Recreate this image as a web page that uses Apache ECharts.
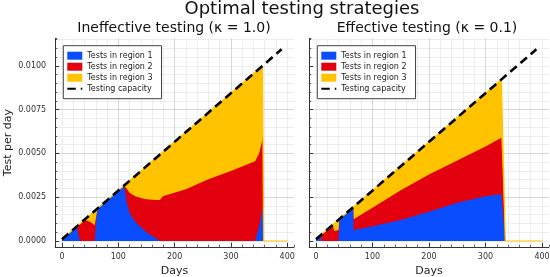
<!DOCTYPE html>
<html><head><meta charset="utf-8">
<script src="https://cdn.jsdelivr.net/npm/echarts@6/dist/echarts.min.js"></script>
<style>html,body{margin:0;padding:0;background:#fff}#c{width:550px;height:277px}</style>
</head><body><div id="c"></div>
<script>
const mainTitle = 'Optimal testing strategies';
const panelTitles = ['Ineffective testing (κ = 1.0)', 'Effective testing (κ = 0.1)'];
const seriesNames = ['Tests in region 1', 'Tests in region 2', 'Tests in region 3', 'Testing capacity'];
const xTicks = [0, 100, 200, 300, 400];
const yTicks = [0, 0.0025, 0.005, 0.0075, 0.01];

// Panel A: kappa = 1.0
const daysA = [0, 26, 32, 40, 46, 52, 58, 61, 62, 65, 80, 100, 110, 115, 120, 130, 140, 150, 160, 170, 174, 177, 179, 181, 220, 260, 300, 343, 350, 356, 357, 358, 400];
const regionA1 = [0.0001, 0.00082, 0, 0, 0, 0, 0, 0, 0.0016, 0.00191, 0.00232, 0.00288, 0.00316, 0.0022, 0.0016, 0.0011, 0.0008, 0.0005, 0.00028, 0.0001, 0, 0, 0, 0, 0, 0, 0, 0, 0.0008, 0.0018, 0.002, 0, '-'];
const regionA2 = [0, 0, 0.00099, 0.00118, 0.00116, 0.00105, 0.0009, 0.00086, 0, 0, 0, 0, 0, 0.0008, 0.00115, 0.00145, 0.00165, 0.00188, 0.00207, 0.00224, 0.00234, 0.00236, 0.00256, 0.00245, 0.00295, 0.00352, 0.004, 0.00455, 0.0042, 0.004, 0.004, 0, '-'];
const regionA3 = [0, 0, 0, 0.00003, 0.00022, 0.0005, 0.00081, 0.00094, 0.00022, 0, 0, 0, 0, 0.0003, 0.00069, 0.00116, 0.00154, 0.00189, 0.0022, 0.00249, 0.0026, 0.00266, 0.00252, 0.00268, 0.00327, 0.00381, 0.00444, 0.00509, 0.00483, 0.00419, 0.00402, 0, 0];

// Panel B: kappa = 0.1
const daysB = [0, 8, 10, 30, 32, 40, 41, 41.5, 66, 66.5, 70, 100, 150, 200, 250, 300, 328, 335, 400];
const regionB1 = [0.0001, 0.00032, 0, 0, 0, 0, 0, 0.00125, 0.00193, 0.00063, 0.00067, 0.00085, 0.0012, 0.00167, 0.00218, 0.00255, 0.00268, 0, '-'];
const regionB2 = [0, 0, 0.00038, 0.00093, 0.00057, 0.00063, 0.00064, 0, 0, 0.00061, 0.00063, 0.00105, 0.0017, 0.00213, 0.00242, 0.00285, 0.00322, 0, '-'];
const regionB3 = [0, 0, 0, 0, 0.00042, 0.00058, 0.0006, 0, 0, 0.00071, 0.00075, 0.00098, 0.00137, 0.00186, 0.00245, 0.00304, 0.00332, 0, 0];

const capacityDays = [0, 390];
const capacityValues = [0.0001, 0.01094];

const BLUE = '#0a4dff', RED = '#e3000f', YEL = '#ffc300';
const FONT = 'DejaVu Sans';

function num(v) { return (v === '-' || v == null) ? null : v; }
function makeCum(days, r1, r2, r3) {
  const blue = [], red = [], total = [];
  days.forEach((d, i) => {
    const a = num(r1[i]), b = num(r2[i]), c = num(r3[i]);
    blue.push([d, a == null ? '-' : a]);
    red.push([d, (a == null || b == null) ? '-' : a + b]);
    total.push([d, (a || 0) + (b || 0) + (c || 0)]);
  });
  return { blue, red, total };
}
const cumA = makeCum(daysA, regionA1, regionA2, regionA3);
const cumB = makeCum(daysB, regionB1, regionB2, regionB3);
const capData = capacityDays.map((d, i) => [d, capacityValues[i]]);

function panelSeries(gi, cum) {
  const ax = gi * 2;
  const base = { type: 'line', xAxisIndex: ax, yAxisIndex: ax, symbol: 'none', showSymbol: false, animation: false, silent: true };
  return [
    Object.assign({}, base, { name: seriesNames[2], data: cum.total, lineStyle: { width: 1.2, color: YEL }, areaStyle: { color: YEL, opacity: 1 }, itemStyle: { color: YEL } }),
    Object.assign({}, base, { name: seriesNames[1], data: cum.red, lineStyle: { width: 0, color: RED }, areaStyle: { color: RED, opacity: 1 }, itemStyle: { color: RED } }),
    Object.assign({}, base, { name: seriesNames[0], data: cum.blue, lineStyle: { width: 0, color: BLUE }, areaStyle: { color: BLUE, opacity: 1 }, itemStyle: { color: BLUE } }),
    Object.assign({}, base, { name: seriesNames[3], data: capData, lineStyle: { width: 2.6, color: '#000', type: [8.5, 5] }, itemStyle: { color: '#000' }, z: 5 })
  ];
}

const grids = [
  { left: 55.2, top: 38.3, width: 238.8, height: 208.5, containLabel: false, outerBoundsMode: 'none' },
  { left: 309.2, top: 38.3, width: 239.6, height: 208.5, containLabel: false, outerBoundsMode: 'none' }
];

function xMajor(g) {
  return {
    gridIndex: g, type: 'value', min: -12, max: 412, minInterval: 100, maxInterval: 100, position: 'bottom', z: 1,
    axisLine: { show: true, onZero: false, lineStyle: { color: '#333', width: 1 } },
    axisTick: { show: true, inside: true, length: 4, customValues: xTicks, lineStyle: { color: '#333' } },
    axisLabel: { show: true, customValues: xTicks, fontSize: 8, color: '#333', margin: 6, fontFamily: FONT },
    splitLine: { show: true, showMinLine: false, showMaxLine: false, lineStyle: { color: '#d6d6d6', width: 1 } },
    name: 'Days', nameLocation: 'middle', nameGap: 19, nameTextStyle: { fontSize: 11, color: '#222', fontFamily: FONT }
  };
}
function xMinor(g) {
  return {
    gridIndex: g, type: 'value', min: -12, max: 412, minInterval: 20, maxInterval: 20, position: 'bottom', z: 0,
    axisLine: { show: false, onZero: false }, axisLabel: { show: false },
    axisTick: { show: true, inside: true, length: 2, lineStyle: { color: '#555' } },
    splitLine: { show: true, showMinLine: false, showMaxLine: false, lineStyle: { color: '#ededed', width: 1 } }
  };
}
function yMajor(g) {
  return {
    gridIndex: g, type: 'value', min: -0.00033, max: 0.01157, minInterval: 0.0025, maxInterval: 0.0025, position: 'left', z: 1,
    axisLine: { show: true, onZero: false, lineStyle: { color: '#333', width: 1 } },
    axisTick: { show: true, inside: true, length: 4, customValues: yTicks, lineStyle: { color: '#333' } },
    axisLabel: { show: g === 0, customValues: yTicks, fontSize: 8, color: '#333', margin: 9, fontFamily: FONT, formatter: v => v.toFixed(4) },
    splitLine: { show: true, showMinLine: false, showMaxLine: false, lineStyle: { color: '#d6d6d6', width: 1 } },
    name: g === 0 ? 'Test per day' : '', nameLocation: 'middle', nameGap: 42, nameRotate: 90,
    nameTextStyle: { fontSize: 11, color: '#222', fontFamily: FONT }
  };
}
function yMinor(g) {
  return {
    gridIndex: g, type: 'value', min: -0.00033, max: 0.01157, minInterval: 0.0005, maxInterval: 0.0005, position: 'left', z: 0,
    axisLine: { show: false, onZero: false }, axisLabel: { show: false },
    axisTick: { show: true, inside: true, length: 2, lineStyle: { color: '#555' } },
    splitLine: { show: true, showMinLine: false, showMaxLine: false, lineStyle: { color: '#ededed', width: 1 } }
  };
}

function legend(left) {
  return {
    orient: 'vertical', left: left, top: 45.7, selectedMode: false,
    backgroundColor: '#fff', borderColor: '#444', borderWidth: 1, borderRadius: 0,
    padding: [5, 9, 5, 3], itemGap: 1, itemWidth: 15, itemHeight: 8,
    textStyle: { fontSize: 8, color: '#222', fontFamily: FONT, lineHeight: 10 },
    data: [
      { name: seriesNames[0], icon: 'rect' },
      { name: seriesNames[1], icon: 'rect' },
      { name: seriesNames[2], icon: 'rect' },
      { name: seriesNames[3], itemStyle: { color: 'rgba(0,0,0,0)', borderWidth: 0, opacity: 0 } }
    ]
  };
}

const chart = echarts.init(document.getElementById('c'), null, { renderer: 'canvas' });
chart.setOption({
  animation: false,
  backgroundColor: '#fff',
  textStyle: { fontFamily: FONT },
  grid: grids,
  xAxis: [xMajor(0), xMinor(0), xMajor(1), xMinor(1)],
  yAxis: [yMajor(0), yMinor(0), yMajor(1), yMinor(1)],
  legend: [legend(63.3), legend(317.3)],
  graphic: [
    { type: 'text', x: 302, y: 9.5, style: { text: mainTitle, fontSize: 18, fontFamily: FONT, fill: '#111', textAlign: 'center', textVerticalAlign: 'middle' } },
    { type: 'text', x: 174, y: 28, style: { text: panelTitles[0], fontSize: 14, fontFamily: FONT, fill: '#111', textAlign: 'center', textVerticalAlign: 'middle' } },
    { type: 'text', x: 427, y: 28, style: { text: panelTitles[1], fontSize: 14, fontFamily: FONT, fill: '#111', textAlign: 'center', textVerticalAlign: 'middle' } }
  ],
  series: panelSeries(0, cumA).concat(panelSeries(1, cumB))
});
</script>
</body></html>
